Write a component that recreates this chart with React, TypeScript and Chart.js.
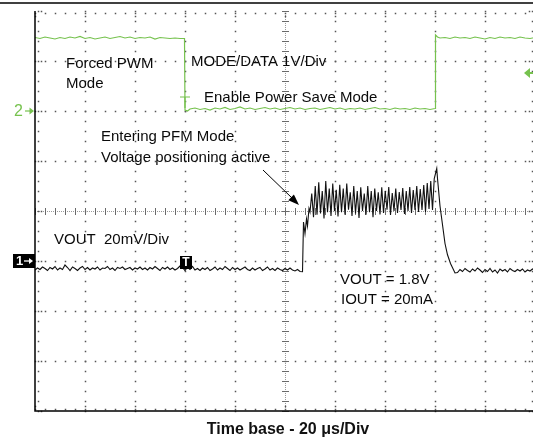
import React, { useEffect, useRef } from "react";
import { Chart, registerables } from "chart.js";

Chart.register(...registerables);

// Channel 1: VOUT (AC, mV relative to the channel-1 ground marker), 20 mV/div
const ch1TimeUs = [
  0, 1, 2, 3, 4, 5, 6, 7, 8, 9, 10, 11, 12, 13, 14, 15, 16, 17, 18, 19,
  20, 21, 22, 23, 24, 25, 26, 27, 28, 29, 30, 31, 32, 33, 34, 35, 36, 37, 38, 39,
  40, 41, 42, 43, 44, 45, 46, 47, 48, 49, 50, 51, 52, 53, 54, 55, 56, 57, 58, 59,
  60, 61, 62, 63, 64, 65, 66, 67, 68, 69, 70, 71, 72, 73, 74, 75, 76, 77, 78, 79,
  80, 81, 82, 83, 84, 85, 86, 87, 88, 89, 90, 91, 92, 93, 94, 95, 96, 97, 98, 99,
  100, 101, 102, 103, 104, 105, 106, 107, 107.4, 108.0, 108.6, 109.0, 109.6, 110.0,
  110.7, 111.4, 112.1, 112.8, 113.5, 114.2, 114.9, 115.6, 116.3, 117.0, 117.7, 118.4,
  119.1, 119.8, 120.5, 121.2, 121.9, 122.6, 123.3, 124.0, 124.7, 125.4, 126.1, 126.8,
  127.5, 128.2, 128.9, 129.6, 130.3, 131.0, 131.7, 132.4, 133.1, 133.8, 134.5, 135.2,
  135.9, 136.6, 137.3, 138.0, 138.7, 139.4, 140.1, 140.8, 141.5, 142.2, 142.9, 143.6,
  144.3, 145.0, 145.7, 146.4, 147.1, 147.8, 148.5, 149.2, 149.9, 150.6, 151.3, 152.0,
  152.7, 153.4, 154.1, 154.8, 155.5, 156.2, 156.9, 157.6, 158.3, 159.0, 159.7, 160.7,
  161.0, 162.0, 163.0, 164.0, 165.0, 166.2, 167.4, 168.0,
  169, 170, 171, 172, 173, 174, 175, 176, 177, 178, 179, 180, 181, 182, 183, 184,
  185, 186, 187, 188, 189, 190, 191, 192, 193, 194, 195, 196, 197, 198, 199, 200,
];
const ch1MilliVolts = [
  -3.6, -2.8, -3.4, -2.4, -3.0, -3.8, -2.6, -3.2, -2.2, -3.6, -2.8, -3.4, -1.6, -2.6, -3.8, -2.4, -3.0, -3.8, -2.8, -2.2,
  -3.4, -2.6, -3.6, -2.8, -3.2, -2.4, -3.6, -2.8, -3.0, -2.2, -3.4, -2.8, -3.8, -2.6, -3.0, -2.4, -3.4, -3.0, -2.6, -3.6,
  -2.8, -3.2, -2.4, -3.4, -2.8, -3.6, -2.6, -3.2, -2.2, -3.0, -3.8, -2.6, -3.2, -2.4, -3.4, -2.8, -3.6, -3.0, -2.0, -2.6,
  -3.8, -2.4, -3.4, -2.2, -3.6, -3.0, -3.8, -2.8, -3.4, -2.6, -3.8, -3.2, -2.4, -3.6, -2.8, -3.4, -2.2, -3.0, -3.8, -2.6,
  -3.4, -2.8, -3.6, -3.0, -2.4, -3.4, -3.8, -2.8, -3.6, -3.0, -2.6, -3.8, -3.2, -2.4, -3.6, -3.0, -3.8, -2.8, -3.4, -3.8,
  -3.0, -3.6, -2.8, -3.6, -4.0, -3.4, -4.2, -4.3, 15.6, 11.0, 16.8, 14.0, 21.0, 19.6,
  27.0, 17.5, 30.0, 18.5, 31.5, 19.0, 28.0, 17.0, 32.0, 19.5, 29.0, 18.0,
  31.0, 20.0, 28.5, 17.8, 30.5, 19.5, 29.0, 18.5, 31.0, 20.5, 27.5, 18.0,
  30.0, 19.0, 28.0, 17.2, 29.5, 20.0, 27.0, 18.5, 30.0, 19.5, 28.0, 17.5,
  29.0, 20.0, 27.5, 18.6, 29.5, 19.2, 28.0, 20.5, 29.6, 18.4, 27.2, 20.0,
  29.0, 19.2, 27.6, 20.4, 29.2, 18.8, 28.0, 20.0, 29.6, 19.2, 28.4, 20.4,
  30.0, 19.6, 28.8, 20.4, 30.4, 19.6, 31.2, 20.8, 32.0, 20.4, 33.0, 37.0,
  33.0, 22.0, 14.5, 7.0, 2.5, -1.0, -3.5, -4.8,
  -4.6, -3.4, -4.2, -3.0, -3.8, -4.4, -3.2, -4.0, -2.8, -3.6, -4.6, -3.4, -4.2, -3.0, -4.4, -3.6,
  -4.8, -3.2, -4.0, -3.4, -4.4, -3.0, -3.8, -4.2, -3.4, -4.0, -3.2, -4.4, -3.6, -4.0, -3.2, -3.8,
];

// Channel 2: MODE/DATA (V), 1 V/div
const ch2TimeUs = [
  0, 2, 4, 6, 8, 10, 12, 14, 16, 18, 20, 22, 24, 26, 28, 30, 32, 34, 36, 38,
  40, 42, 44, 46, 48, 50, 52, 54, 56, 58, 59.8,
  60.0, 61, 62, 64, 66, 68, 70, 72, 74, 76, 78, 80, 82, 84, 86, 88, 90, 92, 94, 96, 98,
  100, 102, 104, 106, 108, 110, 112, 114, 116, 118, 120, 122, 124, 126, 128, 130, 132, 134, 136, 138,
  140, 142, 144, 146, 148, 150, 152, 154, 156, 158, 160.0,
  160.2, 161, 162, 164, 166, 168, 170, 172, 174, 176, 178, 180, 182, 184, 186, 188, 190, 192, 194, 196, 198, 200,
];
const ch2Volts = [
  1.47, 1.45, 1.48, 1.46, 1.44, 1.47, 1.45, 1.48, 1.46, 1.49, 1.45, 1.47, 1.44, 1.46, 1.48, 1.45, 1.47, 1.49, 1.46, 1.48,
  1.45, 1.47, 1.46, 1.48, 1.44, 1.47, 1.46, 1.45, 1.46, 1.45, 1.45,
  0.02, 0.0, 0.04, 0.06, 0.03, 0.05, 0.02, 0.06, 0.04, 0.07, 0.03, 0.05, 0.08, 0.04, 0.06, 0.03, 0.05, 0.07, 0.04, 0.06, 0.03,
  0.05, 0.07, 0.04, 0.06, 0.03, 0.05, 0.06, 0.03, 0.05, 0.07, 0.04, 0.06, 0.03, 0.05, 0.04, 0.06, 0.03, 0.05, 0.07, 0.04,
  0.05, 0.03, 0.06, 0.04, 0.05, 0.03, 0.06, 0.04, 0.05, 0.03, 0.05,
  1.52, 1.48, 1.46, 1.47, 1.45, 1.48, 1.46, 1.47, 1.45, 1.48, 1.46, 1.44, 1.47, 1.45, 1.48, 1.46, 1.47, 1.45, 1.48, 1.46, 1.45, 1.47,
];

const triggerTimeUs = 60;
const ch2TriggerLevelV = 0.76;

const annotations = [
  { text: "Forced PWM", x: 66, y: 64 },
  { text: "Mode", x: 66, y: 84 },
  { text: "MODE/DATA 1V/Div", x: 191, y: 62 },
  { text: "Enable Power Save Mode", x: 204, y: 98 },
  { text: "Entering PFM Mode", x: 101, y: 137 },
  { text: "Voltage positioning active", x: 101, y: 158 },
  { text: "VOUT  20mV/Div", x: 54, y: 240 },
  { text: "VOUT = 1.8V", x: 340, y: 280 },
  { text: "IOUT = 20mA", x: 341, y: 300 },
];
const xAxisTitle = "Time base - 20 \u03bcs/Div";

const GREEN = "#76c24e";
const FONT = '"Liberation Sans", Arial, Helvetica, sans-serif';

const scopePlugin = {
  id: "scope",
  beforeDatasetsDraw(chart: any) {
    const { ctx, chartArea } = chart;
    const { left, top, right, bottom } = chartArea;
    const dx = (right - left) / 10;
    const dy = (bottom - top) / 8;
    ctx.save();
    ctx.fillStyle = "#555";
    const dot = (x: number, y: number) => ctx.fillRect(Math.round(x) - 0.25, Math.round(y) - 0.25, 1.5, 1.5);
    // major vertical lines (dotted)
    for (let i = 1; i < 10; i++) {
      if (i === 5) continue;
      const x = left + i * dx;
      for (let k = 0; k <= 40; k++) dot(x, top + (k * dy) / 5);
    }
    for (let j = 1; j < 8; j++) {
      if (j === 4) continue;
      const y = top + j * dy;
      for (let k = 0; k <= 50; k++) dot(left + (k * dx) / 5, y);
    }
    // center lines
    const cx = Math.round(left + 5 * dx);
    const cy = Math.round(top + 4 * dy);
    ctx.fillStyle = "#999";
    for (let y = top; y <= bottom; y += 2) ctx.fillRect(cx, y, 1, 1);
    for (let x = left; x <= right; x += 2) ctx.fillRect(x, cy, 1, 1);
    ctx.fillStyle = "#6a6a6a";
    for (let k = 0; k <= 40; k++) {
      const y = Math.round(top + (k * dy) / 5);
      ctx.fillRect(cx - 3, y, 7, 1);
    }
    for (let k = 0; k <= 50; k++) {
      const x = Math.round(left + (k * dx) / 5);
      ctx.fillRect(x, cy - 3, 1, 7);
    }
    // edge ticks
    ctx.fillStyle = "#555";
    for (let k = 0; k <= 50; k++) {
      const x = left + (k * dx) / 5;
      const major = k % 5 === 0;
      dot(x, top + 2);
      if (major) {
        dot(x, top + 5);
        dot(x, bottom - 5);
      }
      dot(x, bottom - 2);
    }
    for (let k = 0; k <= 40; k++) {
      const y = top + (k * dy) / 5;
      const major = k % 5 === 0;
      dot(left + 3, y);
      if (major) {
        dot(left + 6, y);
        dot(right - 6, y);
      }
      dot(right - 3, y);
    }
    // text annotations
    ctx.fillStyle = "#0a0a0a";
    ctx.font = "15px " + FONT;
    ctx.textBaseline = "middle";
    ctx.textAlign = "left";
    for (const a of annotations) ctx.fillText(a.text, a.x, a.y);
    ctx.restore();
  },
  afterDatasetsDraw(chart: any) {
    const { ctx, chartArea, scales } = chart;
    const { left, top, bottom } = chartArea;
    ctx.save();
    // frame
    ctx.strokeStyle = "#000";
    ctx.lineWidth = 1.5;
    ctx.beginPath();
    ctx.moveTo(0, 3);
    ctx.lineTo(560, 3);
    ctx.stroke();
    ctx.beginPath();
    ctx.moveTo(left, top);
    ctx.lineTo(left, bottom);
    ctx.lineTo(560, bottom);
    ctx.stroke();

    const xT = Math.round(scales.x.getPixelForValue(triggerTimeUs));
    const g1 = scales.y1.getPixelForValue(0);
    const g2 = scales.y2.getPixelForValue(0);

    // ch2 ground marker "2->"
    ctx.fillStyle = GREEN;
    ctx.strokeStyle = GREEN;
    ctx.font = "16px " + FONT;
    ctx.textBaseline = "middle";
    ctx.textAlign = "left";
    ctx.fillText("2", 14, g2 + 1);
    ctx.lineWidth = 1.2;
    ctx.beginPath();
    ctx.moveTo(25, g2);
    ctx.lineTo(32, g2);
    ctx.stroke();
    ctx.beginPath();
    ctx.moveTo(34, g2);
    ctx.lineTo(29.5, g2 - 3.5);
    ctx.lineTo(29.5, g2 + 3.5);
    ctx.closePath();
    ctx.fill();

    // ch2 trigger "T"
    ctx.lineWidth = 1.2;
    ctx.beginPath();
    ctx.moveTo(xT - 5, 97);
    ctx.lineTo(xT + 5, 97);
    ctx.moveTo(xT, 97);
    ctx.lineTo(xT, g2 - 3);
    ctx.stroke();

    // ch2 trigger level arrow at right
    const yl = scales.y2.getPixelForValue(ch2TriggerLevelV);
    ctx.beginPath();
    ctx.moveTo(524, yl);
    ctx.lineTo(530, yl - 5);
    ctx.lineTo(530, yl + 5);
    ctx.closePath();
    ctx.fill();
    ctx.fillRect(530, yl - 1, 4, 2);

    // ch1 ground marker box "1->"
    ctx.fillStyle = "#000";
    ctx.fillRect(13, g1 - 7, 22, 14);
    ctx.fillStyle = "#fff";
    ctx.font = "bold 13px " + FONT;
    ctx.fillText("1", 16, g1 + 0.5);
    ctx.strokeStyle = "#fff";
    ctx.lineWidth = 1.3;
    ctx.beginPath();
    ctx.moveTo(24, g1);
    ctx.lineTo(31, g1);
    ctx.stroke();
    ctx.beginPath();
    ctx.moveTo(33, g1);
    ctx.lineTo(29, g1 - 3);
    ctx.lineTo(29, g1 + 3);
    ctx.closePath();
    ctx.fill();

    // trigger position box "T"
    ctx.fillStyle = "#000";
    ctx.fillRect(xT - 5, 256, 12, 13);
    ctx.fillStyle = "#fff";
    ctx.font = "bold 12px " + FONT;
    ctx.textAlign = "center";
    ctx.fillText("T", xT + 1, 263);

    // pointer arrow
    ctx.strokeStyle = "#000";
    ctx.fillStyle = "#000";
    ctx.lineWidth = 1;
    ctx.beginPath();
    ctx.moveTo(263, 170);
    ctx.lineTo(292, 198);
    ctx.stroke();
    ctx.beginPath();
    ctx.moveTo(299, 205);
    ctx.lineTo(288.3, 200.2);
    ctx.lineTo(293.9, 194.4);
    ctx.closePath();
    ctx.fill();

    // x axis title
    ctx.fillStyle = "#111";
    ctx.font = "bold 16px " + FONT;
    ctx.textAlign = "center";
    ctx.fillText(xAxisTitle, 288, 430);
    ctx.restore();
  },
};

export default function App() {
  const ref = useRef<HTMLCanvasElement>(null);
  useEffect(() => {
    const canvas = ref.current;
    if (!canvas) return;
    const ch1 = ch1TimeUs.map((t, i) => ({ x: t, y: ch1MilliVolts[i] }));
    const ch2 = ch2TimeUs.map((t, i) => ({ x: t, y: ch2Volts[i] }));
    const chart = new Chart(canvas, {
      type: "line",
      data: {
        datasets: [
          {
            label: "MODE/DATA",
            data: ch2,
            yAxisID: "y2",
            borderColor: GREEN,
            borderWidth: 1.2,
            pointRadius: 0,
            tension: 0,
          },
          {
            label: "VOUT",
            data: ch1,
            yAxisID: "y1",
            borderColor: "#111",
            borderWidth: 1.1,
            pointRadius: 0,
            tension: 0,
          },
        ],
      },
      options: {
        animation: false,
        responsive: false,
        events: [],
        layout: { padding: { left: 35, top: 11, right: 10, bottom: 30 } },
        plugins: { legend: { display: false }, tooltip: { enabled: false } },
        scales: {
          x: { type: "linear", min: 0, max: 200, display: false },
          y1: { type: "linear", min: -60, max: 100, display: false },
          y2: { type: "linear", min: -6, max: 2, display: false },
        },
      },
      plugins: [scopePlugin],
    } as any);
    return () => chart.destroy();
  }, []);
  return (
    <div
      style={{
        position: "fixed",
        left: 0,
        top: 0,
        width: 533,
        height: 441,
        overflow: "hidden",
        background: "#fff",
      }}
    >
      <canvas ref={ref} width={545} height={441} style={{ display: "block" }} />
    </div>
  );
}
